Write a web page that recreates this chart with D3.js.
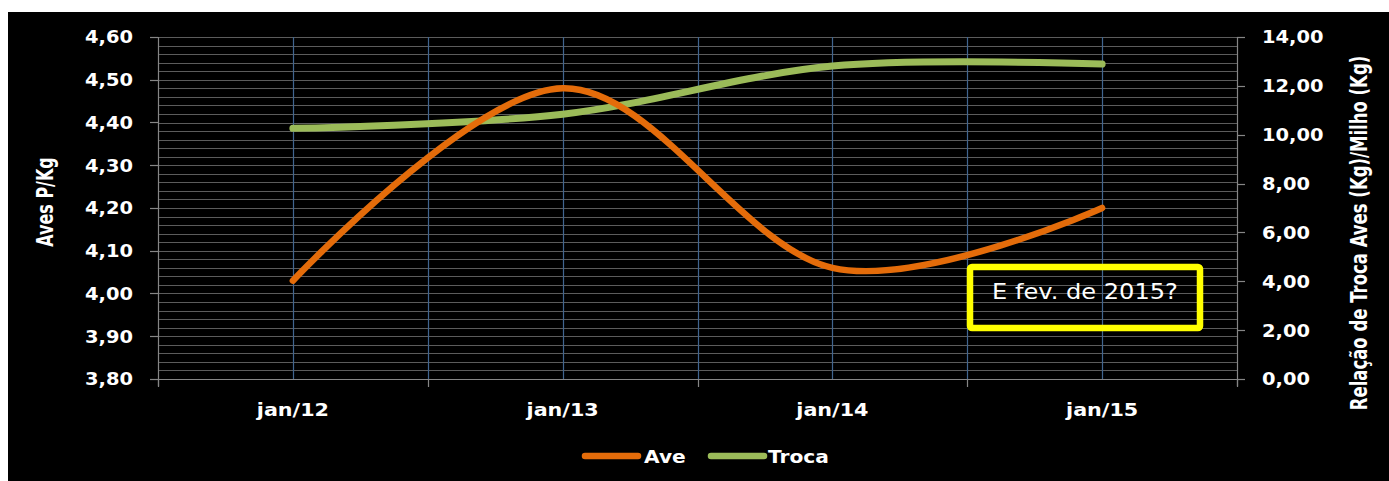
<!DOCTYPE html>
<html>
<head>
<meta charset="utf-8">
<script src="https://cdn.jsdelivr.net/npm/d3@7"></script>
<style>
  html, body { margin: 0; padding: 0; background: #ffffff; }
  svg { display: block; }
  text { font-family: "DejaVu Sans", Verdana, sans-serif; fill: #ffffff; }
</style>
</head>
<body>
<svg id="chart" width="1389" height="481"></svg>
<script>
// Series data
const categories = ["jan/12", "jan/13", "jan/14", "jan/15"];
const aveValues = [4.03, 4.48, 4.06, 4.20];        // Aves P/Kg (left axis)
const trocaValues = [10.26, 10.84, 12.81, 12.89];  // Relação de troca (right axis)

// Axis ticks
const leftTickValues = [3.8, 3.9, 4.0, 4.1, 4.2, 4.3, 4.4, 4.5, 4.6];
const rightTickValues = [0, 2, 4, 6, 8, 10, 12, 14];
const seriesNames = ["Ave", "Troca"];
const noteText = "E fev. de 2015?";

const svg = d3.select("#chart");
const W = 1389, H = 481;
const plot = { left: 158, right: 1237, top: 37, bottom: 379 };

const COL_AVE = "#e46c0a";
const COL_TROCA = "#9bbb59";
const COL_GRID = "#5c5c5c";
const COL_AXIS = "#868686";
const COL_VGRID = "#41658f";

const ptBR = d3.formatLocale({ decimal: ",", thousands: ".", grouping: [3], currency: ["R$", ""] });
const fmt2 = ptBR.format(".2f");

// stretch text horizontally by factor k
function stretch(sel, k) {
  sel.each(function () {
    const n = this.getComputedTextLength();
    this.setAttribute("textLength", n * k);
    this.setAttribute("lengthAdjust", "spacingAndGlyphs");
  });
}

// background panel
svg.append("rect").attr("x", 0).attr("y", 0).attr("width", W).attr("height", H).attr("fill", "#ffffff");
svg.append("rect").attr("x", 8).attr("y", 12).attr("width", W - 8).attr("height", H - 12).attr("fill", "#000000");

const x = d3.scaleBand().domain(categories).range([plot.left, plot.right]).padding(0);
const xc = c => x(c) + x.bandwidth() / 2;
const yL = d3.scaleLinear().domain([3.8, 4.6]).range([plot.bottom, plot.top]);
const yR = d3.scaleLinear().domain([0, 14]).range([plot.bottom, plot.top]);

// horizontal minor grid (every 0,02)
const gridVals = d3.range(1, 41).map(i => 3.8 + i * 0.02);
svg.append("g").selectAll("line").data(gridVals).join("line")
  .attr("x1", plot.left).attr("x2", plot.right)
  .attr("y1", d => Math.round(yL(d)) + 0.5).attr("y2", d => Math.round(yL(d)) + 0.5)
  .attr("stroke", COL_GRID).attr("stroke-width", 1.2);

// vertical grid: category centres and inner boundaries
const vgrid = [];
categories.forEach((c, i) => { vgrid.push(xc(c)); if (i > 0) vgrid.push(x(c)); });
svg.append("g").selectAll("line").data(vgrid).join("line")
  .attr("x1", d => Math.round(d) + 0.5).attr("x2", d => Math.round(d) + 0.5)
  .attr("y1", plot.top).attr("y2", plot.bottom)
  .attr("stroke", COL_VGRID).attr("stroke-width", 1.2);

// axes
const axisG = svg.append("g").attr("stroke", COL_AXIS).attr("stroke-width", 1.2);
axisG.append("line").attr("x1", plot.left + 0.5).attr("x2", plot.left + 0.5).attr("y1", plot.top).attr("y2", plot.bottom + 7);
axisG.append("line").attr("x1", plot.right + 0.5).attr("x2", plot.right + 0.5).attr("y1", plot.top).attr("y2", plot.bottom + 7);
axisG.append("line").attr("x1", plot.left - 8).attr("x2", plot.right + 8).attr("y1", plot.bottom + 0.5).attr("y2", plot.bottom + 0.5);
axisG.selectAll(".tl").data(leftTickValues).join("line")
  .attr("x1", plot.left - 8).attr("x2", plot.left)
  .attr("y1", d => Math.round(yL(d)) + 0.5).attr("y2", d => Math.round(yL(d)) + 0.5);
axisG.selectAll(".tr").data(rightTickValues).join("line")
  .attr("x1", plot.right).attr("x2", plot.right + 8)
  .attr("y1", d => Math.round(yR(d)) + 0.5).attr("y2", d => Math.round(yR(d)) + 0.5);
const xTickPos = categories.map(c => x(c)).concat([plot.right]);
axisG.selectAll(".tx").data(xTickPos).join("line")
  .attr("x1", d => Math.round(d) + 0.5).attr("x2", d => Math.round(d) + 0.5)
  .attr("y1", plot.bottom).attr("y2", plot.bottom + 8);

// tick labels
svg.append("g").selectAll("text").data(leftTickValues).join("text")
  .attr("x", 133).attr("y", d => yL(d)).attr("dy", "0.36em")
  .attr("text-anchor", "end").attr("font-size", 18).attr("font-weight", "bold")
  .text(d => fmt2(d))
  .call(stretch, 1.08);

svg.append("g").selectAll("text").data(rightTickValues).join("text")
  .attr("x", 1262).attr("y", d => yR(d)).attr("dy", "0.36em")
  .attr("text-anchor", "start").attr("font-size", 18).attr("font-weight", "bold")
  .text(d => fmt2(d))
  .call(stretch, 1.08);

svg.append("g").selectAll("text").data(categories).join("text")
  .attr("x", d => xc(d)).attr("y", 416)
  .attr("text-anchor", "middle").attr("font-size", 18).attr("font-weight", "bold")
  .text(d => d)
  .call(stretch, 1.15);

// axis titles (rotated, glyphs widened across the baseline)
svg.append("text")
  .attr("transform", "translate(53,202) rotate(-90) scale(1,1.4)")
  .attr("text-anchor", "middle").attr("font-size", 16).attr("font-weight", "bold")
  .text("Aves P/Kg");
svg.append("text")
  .attr("transform", "translate(1367,233) rotate(-90) scale(1,1.4)")
  .attr("text-anchor", "middle").attr("font-size", 16.5).attr("font-weight", "bold")
  .text("Relação de Troca Aves (Kg)/Milho (Kg)");

// series lines
const curve = d3.curveCardinal.tension(0);
const lineAve = d3.line().x((d, i) => xc(categories[i])).y(d => yL(d)).curve(curve);
const lineTroca = d3.line().x((d, i) => xc(categories[i])).y(d => yR(d)).curve(curve);

svg.append("path").datum(trocaValues).attr("d", lineTroca)
  .attr("fill", "none").attr("stroke", COL_TROCA).attr("stroke-width", 7)
  .attr("stroke-linecap", "round").attr("stroke-linejoin", "round");
svg.append("path").datum(aveValues).attr("d", lineAve)
  .attr("fill", "none").attr("stroke", COL_AVE).attr("stroke-width", 6.5)
  .attr("stroke-linecap", "round").attr("stroke-linejoin", "round");

// note box
svg.append("rect")
  .attr("x", 970).attr("y", 267).attr("width", 230).attr("height", 61).attr("rx", 2)
  .attr("fill", "none").attr("stroke", "#ffff00").attr("stroke-width", 6.5);
svg.append("text")
  .attr("x", 1085).attr("y", 292).attr("dy", "0.35em")
  .attr("text-anchor", "middle").attr("font-size", 21)
  .text(noteText)
  .call(stretch, 187 / 163);

// legend
const legend = svg.append("g");
const legendItems = [
  { name: seriesNames[0], color: COL_AVE, x0: 585, x1: 638, tx: 644 },
  { name: seriesNames[1], color: COL_TROCA, x0: 711, x1: 764, tx: 768 }
];
legendItems.forEach(it => {
  legend.append("line").attr("x1", it.x0).attr("x2", it.x1).attr("y1", 456).attr("y2", 456)
    .attr("stroke", it.color).attr("stroke-width", 6.5).attr("stroke-linecap", "round");
  legend.append("text").attr("x", it.tx).attr("y", 463)
    .attr("font-size", 18).attr("font-weight", "bold").text(it.name)
    .call(stretch, 1.12);
});
</script>
</body>
</html>
